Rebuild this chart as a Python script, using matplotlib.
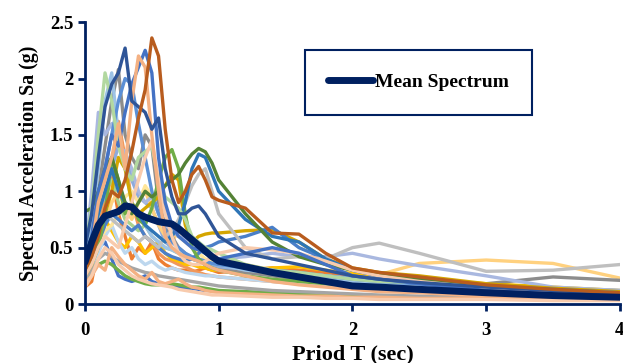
import matplotlib
matplotlib.use("Agg")
import matplotlib.pyplot as plt

plt.rcParams['font.family'] = ['Liberation Serif', 'DejaVu Serif']
plt.rcParams['font.weight'] = 'bold'

# Period grid (sec) shared by every spectrum
periods = [0, 0.05, 0.1, 0.15, 0.2, 0.25, 0.3, 0.35, 0.4, 0.45, 0.5, 0.55, 0.6,
           0.65, 0.7, 0.75, 0.8, 0.85, 0.9, 0.95, 1.0,
           1.2, 1.4, 1.6, 1.8, 2.0, 2.2, 2.5, 3.0, 3.5, 4.0]

# Spectral acceleration (g) of the individual records
rec_orange = [0.15, 0.20, 0.50, 0.90, 1.15, 0.80, 0.60, 0.40, 0.50, 0.45, 0.55, 0.40, 0.35,
              0.32, 0.30, 0.30, 0.28, 0.30, 0.32, 0.30, 0.28,
              0.30, 0.32, 0.30, 0.28, 0.25, 0.22, 0.18, 0.13, 0.10, 0.08]
rec_orange2 = [0.20, 0.30, 0.60, 1.00, 1.20, 1.62, 1.30, 0.90, 0.70, 0.60, 0.55, 0.45, 0.40,
               0.38, 0.35, 0.33, 0.30, 0.28, 0.26, 0.25, 0.24,
               0.22, 0.20, 0.18, 0.16, 0.14, 0.12, 0.11, 0.09, 0.07, 0.06]
rec_blue3 = [0.25, 0.30, 0.50, 0.55, 0.40, 0.25, 0.22, 0.20, 0.22, 0.25, 0.20, 0.18, 0.17,
             0.16, 0.15, 0.14, 0.14, 0.13, 0.12, 0.12, 0.11,
             0.10, 0.09, 0.08, 0.08, 0.07, 0.06, 0.06, 0.05, 0.04, 0.04]
rec_green3 = [0.20, 0.28, 0.35, 0.38, 0.35, 0.30, 0.25, 0.22, 0.20, 0.18, 0.17, 0.17, 0.18,
              0.18, 0.17, 0.16, 0.15, 0.15, 0.14, 0.13, 0.12,
              0.11, 0.10, 0.09, 0.08, 0.07, 0.07, 0.06, 0.05, 0.05, 0.04]
rec_grey2 = [0.22, 0.30, 0.40, 0.45, 0.42, 0.38, 0.35, 0.32, 0.30, 0.28, 0.27, 0.25, 0.24,
             0.23, 0.22, 0.21, 0.20, 0.19, 0.18, 0.17, 0.16,
             0.14, 0.12, 0.11, 0.10, 0.09, 0.08, 0.07, 0.06, 0.05, 0.05]
rec_yellow = [0.35, 0.45, 0.60, 0.75, 0.65, 0.55, 0.50, 0.60, 0.55, 0.45, 0.50, 0.55, 0.45,
              0.40, 0.38, 0.35, 0.35, 0.33, 0.32, 0.30, 0.30,
              0.30, 0.32, 0.33, 0.30, 0.27, 0.25, 0.22, 0.18, 0.15, 0.12]
rec_lblue2 = [0.28, 0.35, 0.45, 0.60, 0.70, 0.55, 0.45, 0.50, 0.40, 0.35, 0.38, 0.33, 0.30,
              0.32, 0.30, 0.28, 0.27, 0.26, 0.25, 0.25, 0.24,
              0.22, 0.20, 0.18, 0.16, 0.15, 0.14, 0.12, 0.10, 0.08, 0.07]
rec_mgreen = [0.40, 0.55, 0.80, 1.00, 1.10, 0.90, 0.75, 0.70, 0.65, 0.70, 0.60, 0.55, 0.50,
              0.48, 0.45, 0.42, 0.40, 0.38, 0.36, 0.34, 0.33,
              0.30, 0.28, 0.26, 0.25, 0.22, 0.20, 0.19, 0.16, 0.13, 0.11]
rec_cblue = [0.45, 0.60, 0.85, 0.95, 1.20, 1.40, 1.35, 1.10, 0.95, 0.90, 0.85, 0.70, 0.55,
             0.50, 0.45, 0.42, 0.40, 0.38, 0.35, 0.33, 0.32,
             0.30, 0.28, 0.27, 0.25, 0.23, 0.21, 0.20, 0.17, 0.14, 0.12]
rec_peach = [0.30, 0.40, 0.55, 0.65, 0.70, 0.80, 0.95, 1.00, 0.90, 1.05, 0.95, 0.80, 0.70,
             0.65, 0.60, 0.55, 0.50, 0.45, 0.40, 0.38, 0.36,
             0.32, 0.28, 0.25, 0.22, 0.20, 0.18, 0.16, 0.12, 0.10, 0.08]
rec_pink2 = [0.18, 0.25, 0.35, 0.30, 0.50, 0.42, 0.35, 0.30, 0.25, 0.22, 0.28, 0.20, 0.18,
             0.20, 0.22, 0.18, 0.15, 0.14, 0.12, 0.11, 0.10,
             0.09, 0.08, 0.07, 0.07, 0.06, 0.06, 0.05, 0.05, 0.04, 0.04]
rec_salmon2 = [0.15, 0.25, 0.40, 0.50, 0.45, 0.35, 0.30, 0.25, 0.22, 0.20, 0.18, 0.17, 0.16,
               0.15, 0.13, 0.12, 0.11, 0.10, 0.09, 0.08, 0.08,
               0.07, 0.06, 0.06, 0.05, 0.05, 0.04, 0.04, 0.04, 0.03, 0.03]
rec_lorange = [0.30, 0.40, 0.55, 0.70, 0.90, 1.00, 0.85, 0.75, 0.90, 1.00, 0.85, 0.70, 0.60,
               0.55, 0.65, 0.60, 0.55, 0.50, 0.45, 0.42, 0.40,
               0.35, 0.30, 0.25, 0.22, 0.20, 0.26, 0.36, 0.39, 0.36, 0.23]
rec_grey = [0.40, 0.60, 1.00, 1.40, 1.80, 2.08, 1.50, 1.30, 1.20, 1.50, 1.40, 0.90, 0.70,
            0.60, 0.50, 0.45, 0.40, 0.38, 0.35, 0.32, 0.30,
            0.28, 0.25, 0.22, 0.20, 0.18, 0.17, 0.16, 0.18, 0.24, 0.21]
rec_lav = [0.45, 1.00, 1.70, 1.50, 1.60, 1.40, 1.35, 1.20, 1.00, 0.90, 0.95, 0.80, 0.70,
           0.65, 0.60, 0.58, 0.55, 0.50, 0.45, 0.42, 0.40,
           0.42, 0.45, 0.42, 0.42, 0.45, 0.40, 0.34, 0.25, 0.15, 0.12]
rec_lblue = [0.30, 0.70, 1.20, 1.80, 2.05, 1.50, 1.20, 0.90, 0.80, 0.70, 0.60, 0.55, 0.50,
             0.48, 0.45, 0.42, 0.40, 0.38, 0.38, 0.36, 0.35,
             0.30, 0.28, 0.25, 0.22, 0.20, 0.18, 0.16, 0.13, 0.10, 0.09]
rec_blue4 = [0.45, 0.55, 0.90, 1.20, 1.50, 1.80, 2.00, 1.95, 1.60, 1.30, 1.00, 0.80, 0.65,
             0.55, 0.50, 0.45, 0.42, 0.40, 0.38, 0.36, 0.35,
             0.32, 0.30, 0.28, 0.25, 0.22, 0.20, 0.18, 0.14, 0.11, 0.09]
rec_gold = [0.25, 0.35, 0.55, 0.80, 1.00, 1.30, 1.20, 0.90, 0.80, 0.85, 0.90, 0.95, 1.05,
            1.15, 1.10, 0.70, 0.55, 0.60, 0.62, 0.63, 0.63,
            0.65, 0.66, 0.55, 0.40, 0.32, 0.28, 0.25, 0.18, 0.14, 0.11]
rec_blue2 = [0.35, 0.40, 0.55, 0.70, 0.80, 0.75, 0.70, 0.65, 0.70, 0.60, 0.55, 0.50, 0.45,
             0.42, 0.40, 0.38, 0.40, 0.45, 0.50, 0.52, 0.55,
             0.60, 0.68, 0.50, 0.40, 0.30, 0.25, 0.20, 0.14, 0.10, 0.08]
rec_lgrey = [0.35, 0.50, 0.70, 0.80, 0.75, 0.70, 0.65, 0.60, 0.55, 0.60, 0.55, 0.50, 0.60,
             0.65, 0.75, 0.90, 1.05, 1.15, 1.20, 1.00, 0.80,
             0.50, 0.40, 0.42, 0.40, 0.50, 0.54, 0.45, 0.29, 0.30, 0.35]
rec_green = [0.30, 0.35, 0.50, 0.80, 1.30, 1.10, 0.80, 0.90, 0.75, 0.70, 0.85, 1.10, 1.30,
             1.37, 1.20, 0.80, 0.50, 0.40, 0.35, 0.32, 0.30,
             0.25, 0.22, 0.20, 0.18, 0.16, 0.14, 0.13, 0.10, 0.08, 0.07]
rec_steel = [0.40, 0.55, 0.80, 1.00, 1.20, 1.00, 0.90, 0.85, 0.80, 0.70, 0.65, 0.60, 0.55,
             0.60, 0.70, 0.90, 1.20, 1.33, 1.30, 1.15, 1.00,
             0.75, 0.60, 0.55, 0.40, 0.30, 0.25, 0.22, 0.16, 0.13, 0.10]
rec_dgreen = [0.82, 0.85, 1.00, 1.20, 1.30, 1.10, 0.90, 0.80, 0.90, 1.00, 0.95, 1.00, 1.05,
              1.10, 1.15, 1.25, 1.33, 1.38, 1.35, 1.25, 1.10,
              0.80, 0.55, 0.42, 0.35, 0.30, 0.26, 0.22, 0.15, 0.12, 0.10]
rec_lgreen = [0.50, 0.85, 1.50, 2.05, 1.80, 1.40, 1.20, 1.10, 1.30, 1.35, 1.40, 1.10, 0.95,
              0.90, 0.85, 0.75, 0.60, 0.55, 0.50, 0.48, 0.45,
              0.35, 0.30, 0.28, 0.25, 0.22, 0.20, 0.19, 0.14, 0.12, 0.10]
rec_pink = [0.25, 0.35, 0.50, 0.60, 0.55, 0.50, 0.70, 0.90, 1.10, 1.30, 1.45, 1.10, 0.80,
            0.60, 0.45, 0.38, 0.35, 0.35, 0.38, 0.42, 0.45,
            0.50, 0.48, 0.45, 0.38, 0.30, 0.25, 0.20, 0.14, 0.10, 0.08]
rec_blue = [0.40, 0.60, 1.00, 1.20, 1.50, 1.40, 1.70, 1.95, 2.10, 2.25, 2.05, 1.30, 0.90,
            0.70, 0.60, 0.55, 0.50, 0.48, 0.45, 0.42, 0.40,
            0.45, 0.50, 0.45, 0.35, 0.25, 0.22, 0.18, 0.12, 0.09, 0.07]
rec_salmon = [0.30, 0.50, 0.90, 1.10, 1.30, 1.60, 1.20, 1.80, 2.20, 2.10, 1.50, 1.00, 0.60,
              0.50, 0.45, 0.42, 0.40, 0.38, 0.35, 0.32, 0.30,
              0.25, 0.20, 0.17, 0.15, 0.13, 0.11, 0.10, 0.07, 0.06, 0.05]
rec_navy = [0.50, 0.80, 1.30, 1.75, 1.95, 2.05, 2.27, 1.80, 1.75, 1.70, 1.55, 1.65, 1.20,
            0.95, 0.80, 0.80, 0.85, 0.87, 0.80, 0.70, 0.60,
            0.45, 0.40, 0.35, 0.30, 0.25, 0.22, 0.19, 0.15, 0.12, 0.09]
rec_brown = [0.30, 0.42, 0.60, 0.85, 1.00, 0.95, 1.10, 1.35, 1.65, 1.90, 2.36, 2.20, 1.55,
             1.10, 0.90, 1.00, 1.15, 1.22, 1.10, 0.95, 0.92,
             0.85, 0.63, 0.62, 0.45, 0.32, 0.28, 0.24, 0.17, 0.13, 0.10]

# Mean of all records
mean_spectrum = [0.37, 0.55, 0.70, 0.78, 0.80, 0.82, 0.87, 0.86, 0.80, 0.77, 0.75, 0.73, 0.72,
                 0.71, 0.67, 0.62, 0.57, 0.52, 0.47, 0.42, 0.38,
                 0.33, 0.28, 0.24, 0.20, 0.16, 0.15, 0.13, 0.10, 0.075, 0.06]

records = [
    (rec_orange, '#ED7D31'), (rec_orange2, '#F1975A'), (rec_blue3, '#4472C4'),
    (rec_green3, '#70AD47'), (rec_grey2, '#A5A5A5'), (rec_yellow, '#FFC000'),
    (rec_lblue2, '#BDD7EE'), (rec_mgreen, '#A9D18E'), (rec_cblue, '#8FAADC'),
    (rec_peach, '#FFE699'), (rec_pink2, '#F4B183'), (rec_salmon2, '#F8CBAD'),
    (rec_lorange, '#FFD17F'), (rec_grey, '#8C8C8C'), (rec_lav, '#A9B8E0'),
    (rec_lblue, '#9DC3E6'), (rec_blue4, '#5B8FD5'), (rec_gold, '#D4A500'),
    (rec_blue2, '#4A7FC8'), (rec_lgrey, '#BFBFBF'), (rec_green, '#70AD47'),
    (rec_steel, '#2E75B6'), (rec_dgreen, '#548235'), (rec_lgreen, '#B2D8A0'),
    (rec_pink, '#F8CBAD'), (rec_blue, '#4472C4'), (rec_salmon, '#F4B183'),
    (rec_navy, '#2F5597'), (rec_brown, '#B85C1E'),
]

navy = '#002060'

fig = plt.figure(figsize=(6.23, 3.63), dpi=100)
ax = fig.add_axes([0.1364, 0.1625, 0.8586, 0.7765])

for values, color in records:
    ax.plot(periods, values, color=color, linewidth=2.4, solid_joinstyle='round')

ax.plot(periods, mean_spectrum, color=navy, linewidth=5, solid_capstyle='round',
        solid_joinstyle='round', label='Mean Spectrum')

ax.set_xlim(0, 4)
ax.set_ylim(0, 2.5)
ax.set_xticks([0, 1, 2, 3, 4])
ax.set_yticks([0, 0.5, 1, 1.5, 2, 2.5])
ax.set_yticklabels(['0', '0.5', '1', '1.5', '2', '2.5'])

for side in ['top', 'right']:
    ax.spines[side].set_visible(False)
for side in ['left', 'bottom']:
    ax.spines[side].set_color(navy)
    ax.spines[side].set_linewidth(2)
ax.tick_params(axis='both', colors=navy, width=2, length=5, direction='out',
               labelsize=13.5, labelcolor='black')
ax.tick_params(axis='x', pad=8)

ax.set_xlabel('Priod T (sec)', fontsize=16, fontweight='bold', labelpad=4)
ax.set_ylabel('Spectral Acceleration Sa (g)', fontsize=14.3, fontweight='bold', labelpad=8)

leg = ax.legend(loc='upper left', bbox_to_anchor=(0.411, 0.90), fontsize=14,
                fancybox=False, framealpha=1, edgecolor=navy, borderpad=1.2,
                borderaxespad=0, handlelength=2.3, handletextpad=0.1)
leg.get_frame().set_linewidth(1.5)

fig.savefig('out.png', dpi=100)
